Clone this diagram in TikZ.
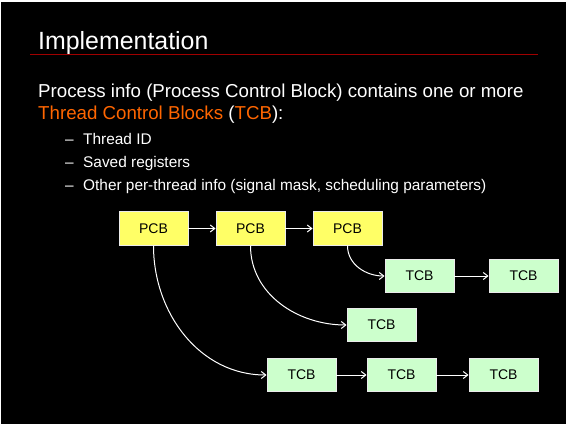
\documentclass[tikz,border=0pt]{standalone}
\usepackage{fontspec}
\setmainfont{Liberation Sans}
\usetikzlibrary{arrows.meta}
\definecolor{slideorange}{RGB}{255,102,0}
\definecolor{ruleRed}{RGB}{160,0,0}
\definecolor{pcbfill}{RGB}{255,255,102}
\definecolor{tcbfill}{RGB}{204,255,204}
\definecolor{boxline}{RGB}{235,235,235}
\tikzset{
  blk/.style={draw=boxline, line width=0.9pt, minimum width=69pt, minimum height=33.5pt, inner sep=0pt, text=black, font=\fontsize{14}{16}\selectfont},
  pcb/.style={blk, fill=pcbfill},
  tcb/.style={blk, fill=tcbfill},
  link/.style={draw=white, line width=1pt, -{Straight Barb[length=4.5pt,width=7pt,line width=1pt]}},
  titletext/.style={anchor=base west, inner sep=0pt, text=white, font=\fontsize{24.9}{28}\selectfont},
  bodytext/.style={anchor=base west, inner sep=0pt, text=white, font=\fontsize{18.7}{22}\selectfont},
  bullettext/.style={anchor=base west, inner sep=0pt, text=white, font=\fontsize{15.4}{18}\selectfont}
}
\begin{document}
\begin{tikzpicture}[x=1pt,y=-1pt]
\useasboundingbox (0,0) rectangle (566,424);
\fill[white] (0,0) rectangle (566,424);
\fill[black] (1,1.5) rectangle (566,424);
% title
\node[titletext] (title) at (38,49) {Implementation};
\draw[ruleRed, line width=1.8pt] (30,54.5) -- (538,54.5);
% body
\node[bodytext] (l1) at (38,97) {Process info (Process Control Block) contains one or more};
\node[bodytext] (l2) at (38,119) {\textcolor{slideorange}{Thread Control Blocks} (\textcolor{slideorange}{TCB}):};
\node[bullettext] (d1) at (65,144) {–};
\node[bullettext] (b1) at (83,144) {Thread ID};
\node[bullettext] (d2) at (65,167) {–};
\node[bullettext] (b2) at (83,167) {Saved registers};
\node[bullettext] (d3) at (65,190) {–};
\node[bullettext] (b3) at (83,190) {Other per-thread info (signal mask, scheduling parameters)};
% boxes
\node[pcb] (p1) at (153.5,228.5) {PCB};
\node[pcb] (p2) at (250.5,228.5) {PCB};
\node[pcb] (p3) at (347.5,228.5) {PCB};
\node[tcb] (ta) at (419.5,276) {TCB};
\node[tcb] (tb) at (523.5,276) {TCB};
\node[tcb] (tm) at (381.5,325) {TCB};
\node[tcb] (u1) at (301.5,375) {TCB};
\node[tcb] (u2) at (401.5,375) {TCB};
\node[tcb] (u3) at (503.5,375) {TCB};
% connectors
\draw[link] (p1) -- (p2);
\draw[link] (p2) -- (p3);
\draw[link] (ta) -- (tb);
\draw[link] (u1) -- (u2);
\draw[link] (u2) -- (u3);
\draw[link] (p3.south) to[out=-90,in=180] (ta.west);
\draw[link] (p2.south) to[out=-90,in=180] (tm.west);
\draw[link] (p1.south) to[out=-90,in=180] (u1.west);
\end{tikzpicture}
\end{document}
